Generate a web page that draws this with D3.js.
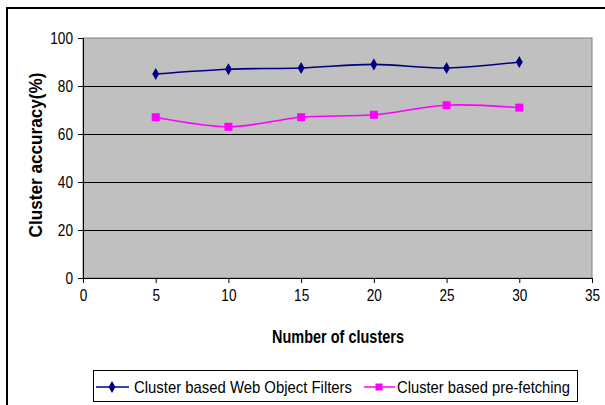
<!DOCTYPE html>
<html><head><meta charset="utf-8">
<script src="https://cdn.jsdelivr.net/npm/d3@7"></script>
<style>html,body{margin:0;padding:0;background:#fff;}svg{display:block;}</style>
</head><body>
<svg id="c" width="605" height="405"></svg>
<script>
const clusters = [5, 10, 15, 20, 25, 30];
const filtersAcc = [85, 87, 87.5, 89, 87.5, 90];
const prefetchAcc = [67, 63, 67, 68, 72, 71];
const seriesNames = ["Cluster based Web Object Filters", "Cluster based pre-fetching"];
const yTicks = [0, 20, 40, 60, 80, 100];
const xTicks = [0, 5, 10, 15, 20, 25, 30, 35];

const svg = d3.select("#c");
const font = "'Liberation Sans', Arial, sans-serif";
const L = 83, R = 592, T = 38, B = 278;
const x = d3.scaleLinear().domain([0, 35]).range([L, R]);
const y = d3.scaleLinear().domain([0, 100]).range([B, T]);

function narrow(sel, f) {
  sel.each(function () {
    const len = this.getComputedTextLength();
    d3.select(this).attr("textLength", (len * f).toFixed(2)).attr("lengthAdjust", "spacingAndGlyphs");
  });
}

// outer border
svg.append("rect").attr("x", 7).attr("y", 8).attr("width", 620).attr("height", 420)
  .attr("fill", "none").attr("stroke", "#000").attr("stroke-width", 2);

// plot area
svg.append("rect").attr("x", L).attr("y", T).attr("width", R - L).attr("height", B - T)
  .attr("fill", "#c0c0c0").attr("stroke", "#808080").attr("stroke-width", 1);

// gridlines
svg.append("g").selectAll("line").data(yTicks.filter(d => d > 0 && d < 100)).join("line")
  .attr("x1", L).attr("x2", R).attr("y1", d => Math.round(y(d)) + 0.5).attr("y2", d => Math.round(y(d)) + 0.5)
  .attr("stroke", "#000").attr("stroke-width", 1);

// axes
const yAxis = svg.append("g").attr("transform", `translate(${L},0)`)
  .call(d3.axisLeft(y).tickValues(yTicks).tickSize(5).tickPadding(5));
const xAxis = svg.append("g").attr("transform", `translate(0,${B})`)
  .call(d3.axisBottom(x).tickValues(xTicks).tickSize(5).tickPadding(6));
[yAxis, xAxis].forEach(a => {
  a.select(".domain").attr("stroke", "#000");
  a.selectAll(".tick line").attr("stroke", "#000");
  a.selectAll("text").attr("font-family", font).attr("font-size", 17).attr("fill", "#000").call(narrow, 0.8);
});

// axis titles
svg.append("text").attr("transform", "translate(42,155) rotate(-90)")
  .attr("text-anchor", "middle").attr("font-family", font).attr("font-size", 18)
  .attr("font-weight", "bold").attr("textLength", 165).attr("lengthAdjust", "spacingAndGlyphs")
  .text("Cluster accuracy(%)");
svg.append("text").attr("x", 338).attr("y", 343).attr("text-anchor", "middle")
  .attr("font-family", font).attr("font-size", 18).attr("font-weight", "bold")
  .attr("textLength", 132).attr("lengthAdjust", "spacingAndGlyphs")
  .text("Number of clusters");

// lines
const line = d3.line().x(d => x(d[0])).y(d => y(d[1])).curve(d3.curveCardinal.tension(0));
const s1 = clusters.map((c, i) => [c, filtersAcc[i]]);
const s2 = clusters.map((c, i) => [c, prefetchAcc[i]]);
svg.append("path").attr("d", line(s1)).attr("fill", "none").attr("stroke", "#000080").attr("stroke-width", 1.6);
svg.append("path").attr("d", line(s2)).attr("fill", "none").attr("stroke", "#ff00ff").attr("stroke-width", 1.6);

const diamond = d3.symbol().type(d3.symbolDiamond).size(42);
svg.append("g").selectAll("path").data(s1).join("path")
  .attr("transform", d => `translate(${x(d[0])},${y(d[1])})`).attr("d", diamond).attr("fill", "#000080");
svg.append("g").selectAll("rect").data(s2).join("rect")
  .attr("x", d => x(d[0]) - 4).attr("y", d => y(d[1]) - 4).attr("width", 8).attr("height", 8)
  .attr("fill", "#ff00ff");

// legend
svg.append("rect").attr("x", 93.5).attr("y", 370.5).attr("width", 484).attr("height", 31)
  .attr("fill", "#fff").attr("stroke", "#000").attr("stroke-width", 1);
const ly = 387;
const lg = svg.append("g");
lg.append("line").attr("x1", 96).attr("x2", 129).attr("y1", ly).attr("y2", ly).attr("stroke", "#000080").attr("stroke-width", 1.5);
lg.append("path").attr("transform", `translate(112,${ly})`).attr("d", diamond).attr("fill", "#000080");
lg.append("text").attr("x", 134).attr("y", ly + 6).attr("font-family", font).attr("font-size", 16.5)
  .attr("textLength", 218).attr("lengthAdjust", "spacingAndGlyphs").text(seriesNames[0]);
lg.append("line").attr("x1", 364).attr("x2", 395).attr("y1", ly).attr("y2", ly).attr("stroke", "#ff00ff").attr("stroke-width", 1.5);
lg.append("rect").attr("x", 375.5).attr("y", ly - 3.5).attr("width", 7).attr("height", 7).attr("fill", "#ff00ff");
lg.append("text").attr("x", 397).attr("y", ly + 6).attr("font-family", font).attr("font-size", 16.5)
  .attr("textLength", 173).attr("lengthAdjust", "spacingAndGlyphs").text(seriesNames[1]);
</script>
</body></html>
